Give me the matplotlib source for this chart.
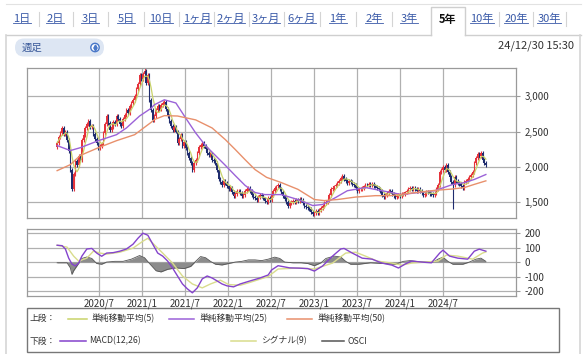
import matplotlib
matplotlib.use('Agg')
import matplotlib.pyplot as plt
import matplotlib.dates as mdates
import numpy as np
import pandas as pd
from matplotlib.patches import Rectangle, FancyBboxPatch, Circle

plt.rcParams['font.family'] = ['Noto Sans CJK JP', 'DejaVu Sans']

# ---------------- data ----------------
start_date = '2020-01-06'   # first weekly candle
first_open = 2280
closes = [
    2340, 2420, 2480, 2550, 2460, 2500, 2380, 2220, 1950, 1690,
    1900, 2080, 2020, 2150, 2100, 2380, 2450, 2550, 2600, 2650,
    2560, 2580, 2470, 2400, 2330, 2270, 2300, 2330, 2480, 2600,
    2720, 2620, 2525, 2560, 2640, 2600, 2720, 2680, 2610, 2580,
    2680, 2740, 2800, 2760, 2860, 2900, 2950, 3000, 3100, 3180,
    3300, 3250, 3320, 3360, 3190, 3300, 2950, 2800, 2665, 2720,
    2800, 2860, 2820, 2880, 2905, 2920, 2820, 2720, 2650, 2580,
    2525, 2560, 2500, 2340, 2400, 2450, 2300, 2350, 2260, 2200,
    2120, 2060, 1960, 2050, 2100, 2200, 2280, 2315, 2340, 2300,
    2250, 2200, 2160, 2180, 2100, 2080, 2060, 1950, 1820, 1780,
    1735, 1800, 1775, 1720, 1680, 1700, 1640, 1590, 1620, 1650,
    1660, 1630, 1580, 1605, 1650, 1680, 1705, 1650, 1605, 1570,
    1560, 1535, 1570, 1600, 1590, 1550, 1520, 1500, 1560, 1530,
    1600, 1650, 1705, 1720, 1735, 1680, 1640, 1590, 1540, 1500,
    1450, 1480, 1500, 1520, 1500, 1535, 1510, 1540, 1535, 1480,
    1450, 1430, 1410, 1395, 1360, 1325, 1340, 1370, 1350, 1390,
    1420, 1450, 1480, 1500, 1535, 1600, 1680, 1700, 1720, 1735,
    1775, 1800, 1840, 1875, 1830, 1800, 1775, 1800, 1790, 1760,
    1735, 1700, 1660, 1680, 1690, 1705, 1720, 1740, 1735, 1760,
    1740, 1750, 1730, 1720, 1700, 1680, 1660, 1600, 1565, 1600,
    1630, 1660, 1650, 1620, 1590, 1565, 1580, 1600, 1590, 1610,
    1620, 1635, 1660, 1690, 1705, 1680, 1700, 1680, 1660, 1680,
    1650, 1630, 1605, 1620, 1640, 1635, 1620, 1610, 1605, 1630,
    1680, 1735, 1920, 1950, 1990, 1960, 2030, 1920, 1850, 1780,
    1735, 1850, 1800, 1775, 1760, 1730, 1705, 1780, 1800, 1820,
    1850, 1880, 1920, 2060, 2120, 2175, 2150, 2200, 2100, 2060,
    2030,
]
low_overrides = {9: 1650, 240: 1395}
high_overrides = {53: 3395, 236: 2060, 257: 2225}

ma25_weeks = [0, 8, 14, 25, 36, 42, 50, 57, 59, 65, 72, 78, 84, 90, 96, 102, 108,
              114, 120, 126, 136, 146, 155, 161, 169, 176, 187, 197, 209, 219,
              229, 240, 247, 253, 260]
ma25_vals = [2300, 2230, 2270, 2370, 2455, 2550, 2720, 2830, 2880, 2950, 2905, 2690,
             2480, 2300, 2160, 2020, 1875, 1735, 1635, 1605, 1605, 1535, 1450, 1465,
             1565, 1660, 1705, 1660, 1605, 1635, 1660, 1750, 1775, 1820, 1890]

ma50_weeks = [0, 8, 14, 25, 36, 47, 53, 57, 59, 65, 73, 84, 94, 102, 108, 114, 120,
              127, 136, 146, 156, 162, 170, 181, 193, 202, 216, 229, 240, 247, 253, 260]
ma50_vals = [1945, 2030, 2160, 2270, 2370, 2455, 2560, 2630, 2670, 2725, 2720, 2665,
             2550, 2385, 2245, 2100, 1960, 1850, 1775, 1680, 1535, 1520, 1535, 1570,
             1590, 1590, 1630, 1665, 1685, 1705, 1750, 1800]

macd_weeks = [0, 3, 5, 7, 9, 11, 13, 15, 18, 21, 24, 27, 30, 34, 38, 42, 46, 49, 52,
              55, 58, 61, 64, 67, 70, 73, 76, 79, 82, 85, 88, 91, 94, 97, 100, 103,
              107, 111, 117, 123, 128, 130, 134, 141, 147, 152, 156, 161, 167, 172,
              174, 179, 185, 191, 197, 203, 207, 211, 215, 221, 227, 232, 234, 238,
              243, 249, 253, 256, 260]
macd_vals = [116, 113, 90, 27, -14, -27, -7, 41, 90, 94, 62, 40, 62, 65, 75, 90, 123,
             164, 199, 185, 123, 62, 41, 7, -41, -96, -151, -185, -212, -178, -116,
             -96, -110, -130, -151, -164, -171, -151, -130, -110, -89, -55, -25, -40,
             -42, -45, -62, -27, 41, 90, 94, 62, 27, 20, -7, -21, -41, -14, 7, 0, -5,
             62, 82, 41, 27, 20, 75, 89, 75]

signal_weeks = [0, 6, 10, 13, 18, 22, 26, 30, 38, 46, 52, 55, 58, 64, 70, 76, 82, 88,
                93, 99, 104, 111, 117, 123, 128, 134, 146, 156, 167, 175, 181, 187,
                194, 203, 209, 215, 223, 231, 236, 243, 252, 258, 260]
signal_vals = [116, 103, 41, 7, 27, 75, 62, 55, 68, 96, 144, 164, 130, 62, -7, -96,
               -151, -178, -151, -125, -155, -160, -140, -118, -100, -48, -41, -48, -7,
               62, 68, 41, 7, -7, -21, -7, 0, 7, 48, 41, 20, 62, 70]

osci_weeks = [0, 6, 8, 9, 10, 13, 15, 18, 21, 24, 27, 30, 35, 40, 45, 50, 53, 56, 60,
              63, 67, 72, 77, 81, 84, 87, 90, 93, 96, 100, 104, 108, 112, 116, 120,
              124, 128, 132, 135, 138, 143, 148, 152, 156, 160, 163, 168, 172, 175,
              178, 183, 190, 198, 205, 210, 214, 220, 228, 231, 234, 237, 240, 246,
              250, 254, 257, 260]
osci_vals = [-5, -5, -40, -85, -60, -10, 25, 35, 25, -10, -15, 0, 5, 5, 20, 45, 30,
             -10, -60, -68, -50, -40, -45, -30, 5, 38, 30, 5, -15, -20, -10, 0, 5, 15,
             15, 10, 20, 34, 25, 0, -5, -5, -10, -25, -5, 25, 41, 35, 5, -15, -15, -5,
             -10, -15, 5, 10, 2, 0, 20, 34, 5, -15, -15, 0, 20, 27, 5]

tick_dates = ['2020-07-01', '2021-01-01', '2021-07-01', '2022-01-01', '2022-07-01',
              '2023-01-01', '2023-07-01', '2024-01-01', '2024-07-01']
tick_labels = ['2020/7', '2021/1', '2021/7', '2022/1', '2022/7', '2023/1', '2023/7',
               '2024/1', '2024/7']
price_ticks = [1500, 2000, 2500, 3000]
macd_ticks = [-200, -100, 0, 100, 200]

tab_labels = ['1日', '2日', '3日', '5日', '10日', '1ヶ月', '2ヶ月', '3ヶ月', '6ヶ月',
              '1年', '2年', '3年', '5年', '10年', '20年', '30年']
selected_tab = '5年'
period_label = '週足'
timestamp = '24/12/30 15:30'

legend_row1 = ['単純移動平均(5)', '単純移動平均(25)', '単純移動平均(50)']
legend_row2 = ['MACD(12,26)', 'シグナル(9)', 'OSCI']

# ---------------- styles ----------------
C_UP = '#e5333b'
C_DOWN = '#1f2c6e'
C_MA5 = '#c9d36a'
C_MA25 = '#9b62d8'
C_MA50 = '#e8906c'
C_MACD = '#8443cc'
C_SIG = '#d9dc8c'
C_OSCI = '#8c8c8c'
C_GRID = '#b0b0b0'
C_SPINE = '#9a9a9a'
C_LINK = '#3a5aa8'

W, H = 586, 354
fig = plt.figure(figsize=(W / 100, H / 100), dpi=100)
fig.patch.set_facecolor('white')

bg = fig.add_axes([0, 0, 1, 1])
bg.set_xlim(0, W)
bg.set_ylim(H, 0)
bg.axis('off')


def fr(x0, y0, x1, y1):
    return [x0 / W, 1 - y1 / H, (x1 - x0) / W, (y1 - y0) / H]


# ---------------- frame / header ----------------
bg.plot([6, 581], [4, 4], color='#e2e2e2', lw=0.8)
bg.plot([6, 431], [35, 35], color='#cfcfcf', lw=1)
bg.plot([465, 581], [35, 35], color='#cfcfcf', lw=1)
bg.plot([6, 6], [35, 354], color='#d6d6d6', lw=1.2)
bg.plot([580, 580], [35, 354], color='#d6d6d6', lw=1.2)
bg.plot([431, 431, 465, 465], [35, 7, 7, 35], color='#cfcfcf', lw=1)

tab_x = [22, 55, 90, 126, 161, 197, 231, 266, 302, 338, 374, 409, 448, 482, 516, 549]
tab_texts = []
for lab, tx in zip(tab_labels, tab_x):
    if lab == selected_tab:
        bg.text(tx, 19, lab, ha='center', va='center', fontsize=8, fontweight='bold',
                color='#111111')
    else:
        t = bg.text(tx, 19, lab, ha='center', va='center', fontsize=8, color=C_LINK)
        tab_texts.append(t)
for a, b in zip(tab_x[:-1], tab_x[1:]):
    m = (a + b) / 2
    if abs(m - 430) < 20 or abs(m - 466) < 20:
        continue
    bg.plot([m, m], [12, 26], color='#d4d4d4', lw=0.8)
bg.plot([566, 566], [12, 26], color='#d4d4d4', lw=0.8)

pill = FancyBboxPatch((15, 38.5), 89, 18, boxstyle='round,pad=0,rounding_size=9',
                      fc='#dde6f3', ec='none')
bg.add_patch(pill)
bg.text(22, 47.5, period_label, ha='left', va='center', fontsize=7.5, color='#3a5a9a')
bg.add_patch(Circle((95, 47.5), 4.2, fc='white', ec='#4a78c8', lw=1))
bg.plot([95], [45.6], marker='^', ms=2.2, color='#4a78c8')
bg.plot([95], [49.4], marker='v', ms=2.2, color='#4a78c8')
bg.text(574, 46, timestamp, ha='right', va='center', fontsize=8, color='#333333')

# ---------------- price panel ----------------
dates = pd.date_range(start_date, periods=len(closes), freq='7D')
xs = mdates.date2num(dates)
closes_a = np.array(closes, dtype=float)
opens_a = np.concatenate([[first_open], closes_a[:-1]])
wick = 28
highs = np.maximum(opens_a, closes_a) + wick
lows = np.minimum(opens_a, closes_a) - wick
for k, v in low_overrides.items():
    lows[k] = v
for k, v in high_overrides.items():
    highs[k] = v
up = closes_a >= opens_a
cols = np.where(up, C_UP, C_DOWN)

xmin = mdates.date2num(pd.Timestamp('2019-08-31'))
xmax = mdates.date2num(pd.Timestamp('2025-05-07'))
tick_x = mdates.date2num(pd.to_datetime(tick_dates))

ax = fig.add_axes(fr(27, 68, 516, 218.5))
ax.set_facecolor('white')
ax.set_xlim(xmin, xmax)
ax.set_ylim(1266, 3401)
ax.set_xticks(tick_x)
ax.set_xticklabels([])
ax.set_yticks(price_ticks)
ax.set_yticklabels([f'{v:,}' for v in price_ticks])
ax.yaxis.tick_right()
ax.tick_params(axis='y', length=3, width=0.8, color=C_SPINE, pad=3, labelsize=7,
               labelcolor='#333333')
ax.tick_params(axis='x', length=0)
ax.grid(True, color=C_GRID, lw=0.9)
ax.set_axisbelow(True)
for s in ax.spines.values():
    s.set_color(C_SPINE)
    s.set_linewidth(0.9)

ax.vlines(xs, lows, highs, colors=cols, lw=0.8, zorder=2)
body_h = np.maximum(np.abs(closes_a - opens_a), 10)
ax.bar(xs, body_h, bottom=np.minimum(opens_a, closes_a), width=6.2, color=cols,
       linewidth=0, zorder=3)

ma5 = pd.Series(closes_a).rolling(5, min_periods=1).mean()
ax.plot(xs, ma5, color=C_MA5, lw=0.9, zorder=4)
ax.plot(xs[ma25_weeks], ma25_vals, color=C_MA25, lw=1.0, zorder=4)
ax.plot(xs[ma50_weeks], ma50_vals, color=C_MA50, lw=1.0, zorder=4)

# ---------------- MACD panel ----------------
ax2 = fig.add_axes(fr(27, 229, 516, 296))
ax2.set_facecolor('white')
ax2.set_xlim(xmin, xmax)
ax2.set_ylim(-234, 228)
ax2.set_xticks(tick_x)
ax2.set_xticklabels(tick_labels)
ax2.set_yticks(macd_ticks)
ax2.set_yticklabels([str(v) for v in macd_ticks])
ax2.yaxis.tick_right()
ax2.tick_params(axis='y', length=3, width=0.8, color=C_SPINE, pad=3, labelsize=7,
                labelcolor='#333333')
ax2.tick_params(axis='x', length=0, pad=1.5, labelsize=7, labelcolor='#333333')
ax2.grid(True, color=C_GRID, lw=0.9)
ax2.set_axisbelow(True)
for s in ax2.spines.values():
    s.set_color(C_SPINE)
    s.set_linewidth(0.9)

ox = xs[osci_weeks]
ax2.fill_between(ox, 0, osci_vals, color=C_OSCI, lw=0, zorder=2)
ax2.plot(ox, osci_vals, color='#555555', lw=0.6, zorder=2)
ax2.plot(xs[signal_weeks], signal_vals, color=C_SIG, lw=1.0, zorder=3)
ax2.plot(xs[macd_weeks], macd_vals, color=C_MACD, lw=1.0, zorder=4)

# ---------------- legend box ----------------
bg.add_patch(Rectangle((27, 308), 532, 44, fc='white', ec='#777777', lw=1))
r1, r2 = 318.5, 341
bg.text(30, r1, '上段：', ha='left', va='center', fontsize=6.3, color='#333333')
bg.text(30, r2, '下段：', ha='left', va='center', fontsize=6.3, color='#333333')
row1_lines = [(68, 87, C_MA5), (169, 194, C_MA25), (287, 312, C_MA50)]
row1_text_x = [91, 199, 317]
for (a, b, c), tx, lab in zip(row1_lines, row1_text_x, legend_row1):
    bg.plot([a, b], [r1, r1], color=c, lw=1.1)
    bg.text(tx, r1, lab, ha='left', va='center', fontsize=6.3, color='#333333')
row2_lines = [(60, 86, C_MACD), (231, 256, C_SIG), (322, 344, '#555555')]
row2_text_x = [89, 261, 348]
for (a, b, c), tx, lab in zip(row2_lines, row2_text_x, legend_row2):
    bg.plot([a, b], [r2, r2], color=c, lw=1.1)
    bg.text(tx, r2, lab, ha='left', va='center', fontsize=6.3, color='#333333')

# underline the tab links
fig.canvas.draw()
renderer = fig.canvas.get_renderer()
for t in tab_texts:
    bb = t.get_window_extent(renderer)
    yb = H - bb.y0 - 1.5
    bg.plot([bb.x0, bb.x1], [yb, yb], color=C_LINK, lw=0.6)

fig.savefig('out.png', dpi=100)
